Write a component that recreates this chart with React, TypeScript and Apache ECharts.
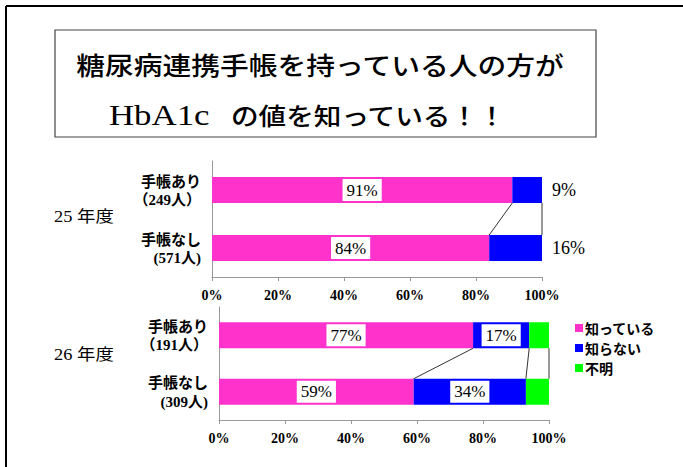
import React, { useEffect, useRef } from "react";
import * as echarts from "echarts";

const categories = ["手帳あり", "手帳なし"];
const counts25 = ["（249人）", "(571人)"];
const counts26 = ["（191人）", "(309人)"];
const know25 = [91, 84];
const notKnow25 = [9, 16];
const know26 = [77, 59];
const notKnow26 = [17, 34];
const unknown26 = [6, 7];
const seriesNames = ["知っている", "知らない", "不明"];
const yearLabels = ["25 年度", "26 年度"];
const titleLine1 = "糖尿病連携手帳を持っている人の方が";
const titleLine2a = "HbA1c";
const titleLine2b = "の値を知っている！！";
const xMin = 0;
const xMax = 100;
const xInterval = 20;

const PINK = "#FF33CC";
const BLUE = "#0000FF";
const GREEN = "#00FF00";
const SERIF = "'Liberation Serif', 'Times New Roman', 'Noto Sans CJK JP', serif";
const GOTHIC = "'Noto Sans CJK JP', sans-serif";
const BAR_W = 26;

function cumulative(...arrs: number[][]): number[][] {
  const out: number[][] = [];
  let acc = arrs[0].map(() => 0);
  arrs.forEach((a) => {
    acc = acc.map((v, i) => v + a[i]);
    out.push([...acc]);
  });
  return out;
}

const boxLabel = {
  show: true,
  position: "inside" as const,
  formatter: "{c}%",
  backgroundColor: "#fff",
  color: "#000",
  fontFamily: SERIF,
  fontSize: 17,
  padding: [3, 4, 2, 4],
};

function makeAxes(idx: number, counts: string[]) {
  const x = {
    type: "value",
    gridIndex: idx,
    min: xMin,
    max: xMax,
    interval: xInterval,
    axisLine: { show: true, lineStyle: { color: "#999" } },
    axisTick: { show: true, length: 4, lineStyle: { color: "#999" } },
    splitLine: { show: false },
    axisLabel: {
      formatter: "{value}%",
      color: "#000",
      fontFamily: SERIF,
      fontWeight: "bold",
      fontSize: 14,
      margin: 11,
    },
  };
  const y = {
    type: "category",
    gridIndex: idx,
    inverse: true,
    data: categories,
    axisLine: { show: true, lineStyle: { color: "#999" } },
    axisTick: { show: false },
    axisLabel: {
      margin: 11,
      align: "right",
      formatter: (v: string, i: number) => `{a|${v}}\n{b|${counts[i]}}`,
      rich: {
        a: { fontFamily: GOTHIC, fontWeight: "bold", fontSize: 15, lineHeight: 20, color: "#000", align: "right" },
        b: { fontFamily: SERIF, fontWeight: "bold", fontSize: 15, lineHeight: 20, color: "#000", align: "right" },
      },
    },
  };
  return { x, y };
}

function seriesLines(idx: number, bounds: number[][]) {
  return {
    type: "custom",
    xAxisIndex: idx,
    yAxisIndex: idx,
    silent: true,
    z: 5,
    encode: { x: [0, 2], y: [1, 3] },
    data: bounds.map((b) => [b[0], 0, b[1], 1]),
    renderItem: (_p: any, api: any) => {
      const p1 = api.coord([api.value(0), api.value(1)]);
      const p2 = api.coord([api.value(2), api.value(3)]);
      return {
        type: "line",
        shape: { x1: p1[0], y1: p1[1] + BAR_W / 2, x2: p2[0], y2: p2[1] - BAR_W / 2 },
        style: { stroke: "#333", lineWidth: 1 },
      };
    },
  };
}

export default function App() {
  const ref = useRef<HTMLDivElement>(null);
  useEffect(() => {
    document.body.style.margin = "0";
    const chart = echarts.init(ref.current!, null, { renderer: "svg" });
    const a0 = makeAxes(0, counts25);
    const a1 = makeAxes(1, counts26);
    const b25 = cumulative(know25, notKnow25);
    const b26 = cumulative(know26, notKnow26, unknown26);
    chart.setOption({
      animation: false,
      backgroundColor: "#fff",
      grid: [
        { left: 212, right: 141, top: 161, height: 116 },
        { left: 219, right: 134, top: 307, height: 113 },
      ],
      xAxis: [a0.x, a1.x],
      yAxis: [a0.y, a1.y],
      legend: {
        data: seriesNames,
        orient: "vertical",
        left: 570,
        top: 316,
        icon: "rect",
        itemWidth: 8,
        itemHeight: 8,
        itemGap: 6,
        textStyle: { fontFamily: GOTHIC, fontWeight: "bold", fontSize: 14, color: "#000", padding: [0, 0, 0, -3] },
      },
      series: [
        {
          name: seriesNames[0], type: "bar", stack: "y25", xAxisIndex: 0, yAxisIndex: 0,
          barWidth: BAR_W, data: know25, itemStyle: { color: PINK }, label: boxLabel,
        },
        {
          name: seriesNames[1], type: "bar", stack: "y25", xAxisIndex: 0, yAxisIndex: 0,
          barWidth: BAR_W, data: notKnow25, itemStyle: { color: BLUE },
          label: {
            show: true, position: "right", distance: 10, formatter: "{c}%",
            color: "#000", fontFamily: SERIF, fontSize: 18,
          },
        },
        {
          name: seriesNames[0], type: "bar", stack: "y26", xAxisIndex: 1, yAxisIndex: 1,
          barWidth: BAR_W, data: know26, itemStyle: { color: PINK }, label: boxLabel,
        },
        {
          name: seriesNames[1], type: "bar", stack: "y26", xAxisIndex: 1, yAxisIndex: 1,
          barWidth: BAR_W, data: notKnow26, itemStyle: { color: BLUE }, label: boxLabel,
        },
        {
          name: seriesNames[2], type: "bar", stack: "y26", xAxisIndex: 1, yAxisIndex: 1,
          barWidth: BAR_W, data: unknown26, itemStyle: { color: GREEN },
        },
        seriesLines(0, b25),
        seriesLines(1, b26),
      ],
      graphic: [
        { type: "line", shape: { x1: 6, y1: 6, x2: 683, y2: 6 }, style: { stroke: "#000", lineWidth: 2 } },
        { type: "line", shape: { x1: 6, y1: 6, x2: 6, y2: 467 }, style: { stroke: "#000", lineWidth: 2 } },
        { type: "rect", shape: { x: 55, y: 30, width: 541, height: 107 }, style: { fill: "#fff", stroke: "#444", lineWidth: 1.2 } },
        {
          type: "text", x: 320, y: 64, scaleX: 1.15,
          style: { text: titleLine1, x: 0, y: 0, align: "center", verticalAlign: "middle", fontFamily: GOTHIC, fontWeight: 500, fontSize: 25, fill: "#000" },
        },
        {
          type: "text", x: 109, y: 115, scaleX: 1.2,
          style: { text: titleLine2a, x: 0, y: 0, align: "left", verticalAlign: "middle", fontFamily: SERIF, fontSize: 29, fill: "#000" },
        },
        {
          type: "text", x: 231, y: 114, scaleX: 1.15,
          style: { text: titleLine2b, x: 0, y: 0, align: "left", verticalAlign: "middle", fontFamily: GOTHIC, fontWeight: 500, fontSize: 24, fill: "#000" },
        },
        {
          type: "text", x: 54, y: 217, scaleX: 1.15,
          style: { text: yearLabels[0], x: 0, y: 0, align: "left", verticalAlign: "middle", fontFamily: SERIF, fontSize: 16, fill: "#000" },
        },
        {
          type: "text", x: 54, y: 355, scaleX: 1.15,
          style: { text: yearLabels[1], x: 0, y: 0, align: "left", verticalAlign: "middle", fontFamily: SERIF, fontSize: 16, fill: "#000" },
        },
      ],
    });
    return () => chart.dispose();
  }, []);
  return <div ref={ref} style={{ width: 683, height: 467 }} />;
}
